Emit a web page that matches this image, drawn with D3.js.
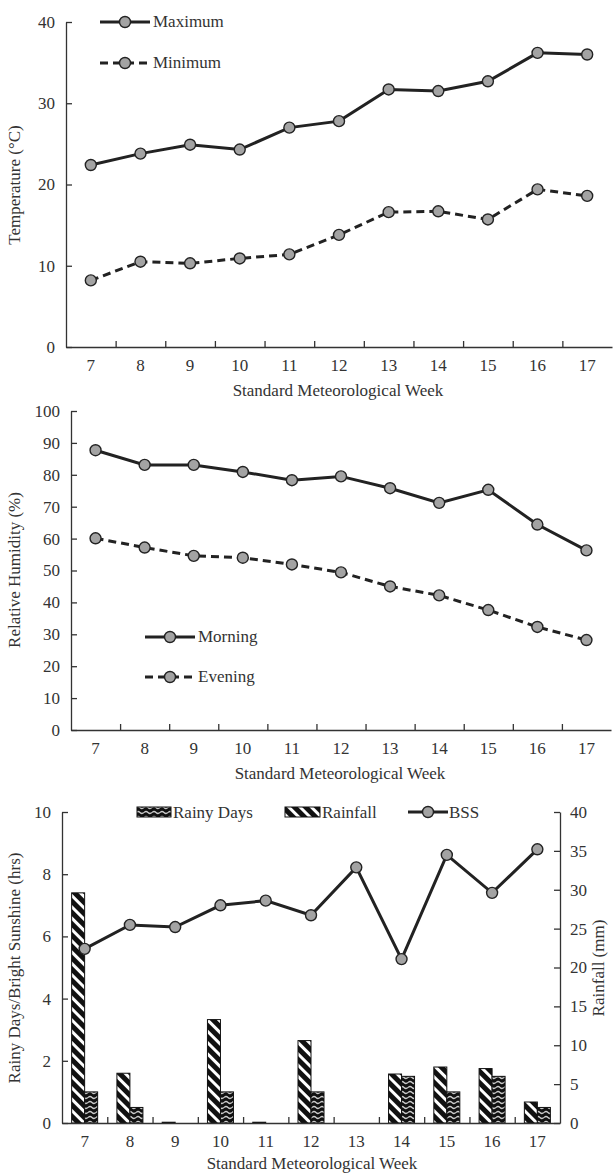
<!DOCTYPE html>
<html>
<head>
<meta charset="utf-8">
<script src="https://cdn.jsdelivr.net/npm/d3@7"></script>
<style>
  body { margin: 0; background: #fff; }
  svg text { font-family: "Liberation Serif", "Times New Roman", Times, serif; fill: #333; }
  .axis path, .axis line { stroke: #333; stroke-width: 1.3; }
  .axis text { font-size: 17px; font-family: "Liberation Serif", "Times New Roman", Times, serif; fill: #333; }
</style>
</head>
<body>
<svg id="chart" width="613" height="1173"></svg>
<script>
var weeks = ['7', '8', '9', '10', '11', '12', '13', '14', '15', '16', '17'];

// temperature (deg C)
var tempMax = [22.4, 23.8, 24.9, 24.3, 27.0, 27.8, 31.7, 31.5, 32.7, 36.2, 36.0];
var tempMin = [8.2, 10.5, 10.3, 10.9, 11.4, 13.8, 16.6, 16.7, 15.7, 19.4, 18.6];

// relative humidity (%)
var rhMorning = [87.7, 83.1, 83.1, 80.9, 78.3, 79.5, 75.8, 71.2, 75.3, 64.4, 56.3];
var rhEvening = [60.1, 57.2, 54.6, 54.0, 51.9, 49.4, 45.0, 42.2, 37.6, 32.3, 28.2];

// rain + sunshine
var rainfall = [29.6, 6.4, 0.1, 13.3, 0.1, 10.6, 0, 6.3, 7.2, 7.0, 2.7];
var rainyDays = [1, 0.5, 0, 1, 0, 1, 0, 1.5, 1, 1.5, 0.5];
var bss = [5.6, 6.37, 6.3, 7.0, 7.15, 6.68, 8.22, 5.27, 8.62, 7.4, 8.8];

var svg = d3.select('#chart');
var lineColor = '#222';
var dotFill = '#a3a3a3';
var fs = '17px';
var serif = '"Liberation Serif", "Times New Roman", Times, serif';

// patterns for the bars
var defs = svg.append('defs');
var stripes = defs.append('pattern')
  .attr('id', 'stripes')
  .attr('width', 8).attr('height', 8)
  .attr('patternUnits', 'userSpaceOnUse')
  .attr('patternTransform', 'rotate(-45)');
stripes.append('rect').attr('width', 8).attr('height', 8).attr('fill', '#111');
stripes.append('rect').attr('x', 0).attr('width', 3).attr('height', 8).attr('fill', '#fff');

var waves = defs.append('pattern')
  .attr('id', 'waves')
  .attr('width', 8).attr('height', 5)
  .attr('patternUnits', 'userSpaceOnUse');
waves.append('rect').attr('width', 8).attr('height', 5).attr('fill', '#111');
waves.append('path')
  .attr('d', 'M0,2.5 Q2,0.5 4,2.5 T8,2.5')
  .attr('fill', 'none').attr('stroke', '#ccc').attr('stroke-width', 1.2);

function xAxes(g, x, bottom, left, right) {
  // category labels
  g.append('g')
    .attr('class', 'axis')
    .attr('transform', 'translate(0,' + bottom + ')')
    .call(d3.axisBottom(x).tickSize(0).tickPadding(12))
    .call(function (s) { s.select('.domain').remove(); });

  // boundary ticks between weeks, pointing inward
  var xb = d3.scaleLinear().domain([0, weeks.length]).range([left, right]);
  g.append('g')
    .attr('class', 'axis')
    .attr('transform', 'translate(0,' + bottom + ')')
    .call(d3.axisBottom(xb).tickValues(d3.range(1, weeks.length)).tickSize(-6).tickSizeOuter(0).tickFormat(''));
}

function drawSeries(g, x, y, values, dashed) {
  var pts = values.map(function (v, i) { return { w: weeks[i], v: v }; });
  var line = d3.line()
    .x(function (d) { return x(d.w) + x.bandwidth() / 2; })
    .y(function (d) { return y(d.v); });

  g.append('path')
    .datum(pts)
    .attr('d', line)
    .attr('fill', 'none')
    .attr('stroke', lineColor)
    .attr('stroke-width', 3)
    .attr('stroke-dasharray', dashed ? '8,5' : null);

  g.selectAll(null)
    .data(pts)
    .enter()
    .append('circle')
    .attr('cx', function (d) { return x(d.w) + x.bandwidth() / 2; })
    .attr('cy', function (d) { return y(d.v); })
    .attr('r', 5.5)
    .attr('fill', dotFill)
    .attr('stroke', lineColor)
    .attr('stroke-width', 1.4);
}

function addText(g, x0, y0, label) {
  return g.append('text')
    .attr('x', x0).attr('y', y0)
    .style('font-size', fs)
    .style('font-family', serif)
    .text(label);
}

function legendLine(g, x0, yy, label, dashed) {
  g.append('line')
    .attr('x1', x0).attr('x2', x0 + 50)
    .attr('y1', yy).attr('y2', yy)
    .attr('stroke', lineColor).attr('stroke-width', 3)
    .attr('stroke-dasharray', dashed ? '8,5' : null);
  g.append('circle')
    .attr('cx', x0 + 25).attr('cy', yy).attr('r', 5.5)
    .attr('fill', dotFill).attr('stroke', lineColor).attr('stroke-width', 1.4);
  addText(g, x0 + 53, yy + 5, label);
}

function yLabel(g, text, cx, cy) {
  g.append('text')
    .attr('transform', 'translate(' + cx + ',' + cy + ') rotate(-90)')
    .attr('text-anchor', 'middle')
    .style('font-size', fs)
    .style('font-family', serif)
    .text(text);
}

function xTitle(g, cx, cy) {
  addText(g, cx, cy, 'Standard Meteorological Week').attr('text-anchor', 'middle');
}

// ---------- panel 1: temperature ----------
(function () {
  var left = 66, right = 612, top = 22, bottom = 347;
  var g = svg.append('g');
  var x = d3.scaleBand().domain(weeks).range([left, right]);
  var y = d3.scaleLinear().domain([0, 40]).range([bottom, top]);

  g.append('g')
    .attr('class', 'axis')
    .attr('transform', 'translate(' + left + ',0)')
    .call(d3.axisLeft(y).tickValues([0, 10, 20, 30, 40]).tickSize(-6).tickSizeOuter(0).tickPadding(11));
  xAxes(g, x, bottom, left, right);

  drawSeries(g, x, y, tempMax, false);
  drawSeries(g, x, y, tempMin, true);

  legendLine(g, 100, 22, 'Maximum', false);
  legendLine(g, 100, 63, 'Minimum', true);

  yLabel(g, 'Temperature (\u00B0C)', 20, 185);
  xTitle(g, 338, 396);
})();

// ---------- panel 2: relative humidity ----------
(function () {
  var left = 71, right = 611, top = 411, bottom = 730;
  var g = svg.append('g');
  var x = d3.scaleBand().domain(weeks).range([left, right]);
  var y = d3.scaleLinear().domain([0, 100]).range([bottom, top]);

  g.append('g')
    .attr('class', 'axis')
    .attr('transform', 'translate(' + left + ',0)')
    .call(d3.axisLeft(y).ticks(10).tickSize(-6).tickSizeOuter(0).tickPadding(11));
  xAxes(g, x, bottom, left, right);

  drawSeries(g, x, y, rhMorning, false);
  drawSeries(g, x, y, rhEvening, true);

  legendLine(g, 145, 637, 'Morning', false);
  legendLine(g, 145, 677, 'Evening', true);

  yLabel(g, 'Relative Humidity (%)', 20, 570);
  xTitle(g, 340, 779);
})();

// ---------- panel 3: rainfall, rainy days, sunshine ----------
(function () {
  var left = 62, right = 560, top = 812, bottom = 1123;
  var g = svg.append('g');
  var x = d3.scaleBand().domain(weeks).range([left, right]);
  var yL = d3.scaleLinear().domain([0, 10]).range([bottom, top]);
  var yR = d3.scaleLinear().domain([0, 40]).range([bottom, top]);
  var barW = 13;

  g.append('g')
    .attr('class', 'axis')
    .attr('transform', 'translate(' + left + ',0)')
    .call(d3.axisLeft(yL).tickValues([0, 2, 4, 6, 8, 10]).tickSize(-6).tickSizeOuter(0).tickPadding(11));
  g.append('g')
    .attr('class', 'axis')
    .attr('transform', 'translate(' + right + ',0)')
    .call(d3.axisRight(yR).tickValues(d3.range(0, 45, 5)).tickSize(-6).tickSizeOuter(0).tickPadding(10));

  // rainfall bars (right axis)
  g.selectAll(null)
    .data(rainfall.map(function (v, i) { return { w: weeks[i], v: v }; }))
    .enter()
    .append('rect')
    .attr('x', function (d) { return x(d.w) + x.bandwidth() / 2 - barW; })
    .attr('width', barW)
    .attr('y', function (d) { return yR(d.v); })
    .attr('height', function (d) { return yR(0) - yR(d.v); })
    .attr('fill', 'url(#stripes)')
    .attr('stroke', '#111')
    .attr('stroke-width', 1);

  // rainy days bars (left axis)
  g.selectAll(null)
    .data(rainyDays.map(function (v, i) { return { w: weeks[i], v: v }; }))
    .enter()
    .append('rect')
    .attr('x', function (d) { return x(d.w) + x.bandwidth() / 2; })
    .attr('width', barW)
    .attr('y', function (d) { return yL(d.v); })
    .attr('height', function (d) { return yL(0) - yL(d.v); })
    .attr('fill', 'url(#waves)')
    .attr('stroke', '#111')
    .attr('stroke-width', 1)
    .style('display', function (d) { return d.v > 0 ? null : 'none'; });

  xAxes(g, x, bottom, left, right);
  drawSeries(g, x, yL, bss, false);

  // legend
  g.append('rect').attr('x', 137).attr('y', 807).attr('width', 34).attr('height', 10)
    .attr('fill', 'url(#waves)').attr('stroke', '#111');
  addText(g, 173, 818, 'Rainy Days');
  g.append('rect').attr('x', 285).attr('y', 807).attr('width', 35).attr('height', 10)
    .attr('fill', 'url(#stripes)').attr('stroke', '#111');
  addText(g, 322, 818, 'Rainfall');
  g.append('line').attr('x1', 408).attr('x2', 448).attr('y1', 812).attr('y2', 812)
    .attr('stroke', lineColor).attr('stroke-width', 3);
  g.append('circle').attr('cx', 428).attr('cy', 812).attr('r', 5.5)
    .attr('fill', dotFill).attr('stroke', lineColor).attr('stroke-width', 1.4);
  addText(g, 449, 818, 'BSS');

  yLabel(g, 'Rainy Days/Bright Sunshine (hrs)', 20, 968);
  g.append('text')
    .attr('transform', 'translate(604,968) rotate(-90)')
    .attr('text-anchor', 'middle')
    .style('font-size', fs)
    .style('font-family', serif)
    .text('Rainfall (mm)');
  xTitle(g, 312, 1169);
})();
</script>
</body>
</html>
